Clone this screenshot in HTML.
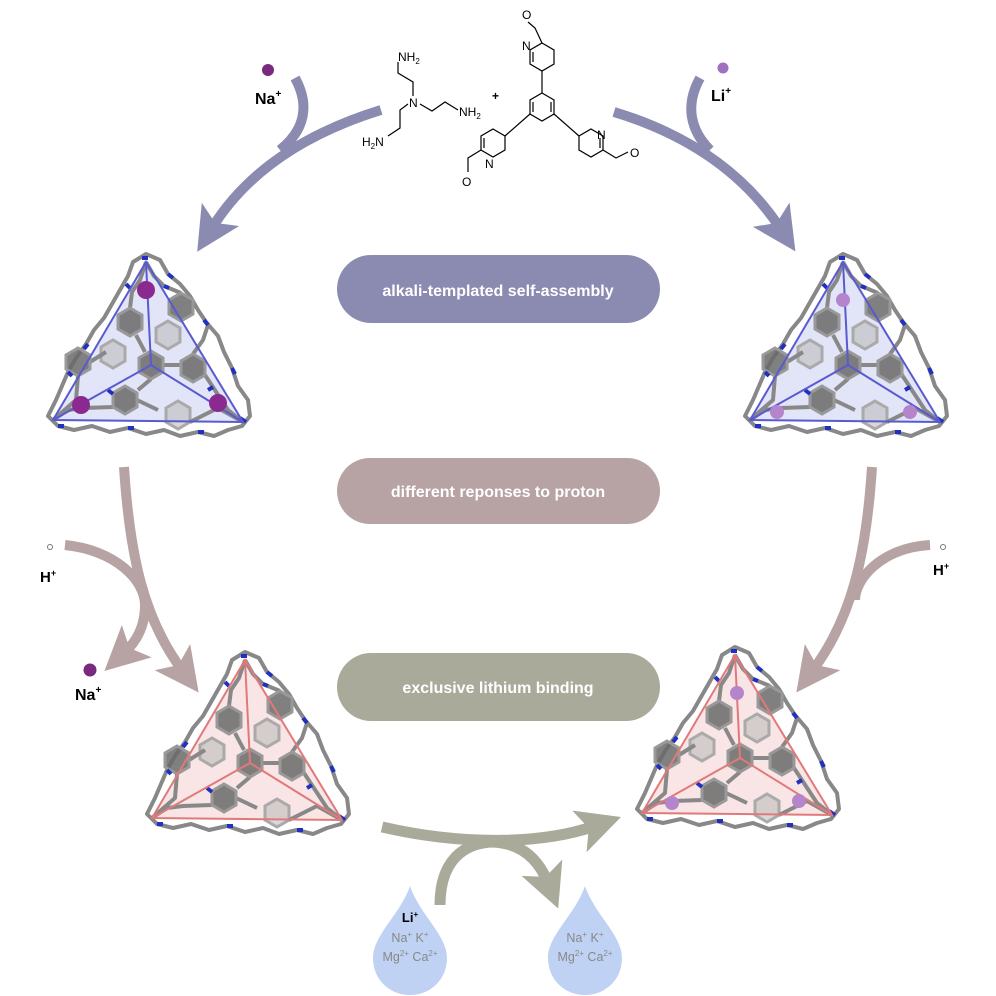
<!DOCTYPE html>
<html><head><meta charset="utf-8"><style>
body{margin:0;background:#fff;}
svg{display:block;font-family:"Liberation Sans",sans-serif;}
</style></head><body>
<svg width="996" height="996" viewBox="0 0 996 996" xmlns="http://www.w3.org/2000/svg">
<defs>
<marker id="ap" markerWidth="4.4" markerHeight="4.4" refX="1.6" refY="2.2" orient="auto" markerUnits="strokeWidth"><path d="M0,0 L4.4,2.2 L0,4.4 L1,2.2z" fill="#8b8bb2"/></marker>
<marker id="ab" markerWidth="4.4" markerHeight="4.4" refX="1.6" refY="2.2" orient="auto" markerUnits="strokeWidth"><path d="M0,0 L4.4,2.2 L0,4.4 L1,2.2z" fill="#b7a3a3"/></marker>
<marker id="ag" markerWidth="4" markerHeight="4" refX="1.5" refY="2" orient="auto" markerUnits="strokeWidth"><path d="M0,0 L4,2 L0,4 L0.9,2z" fill="#aaaa9b"/></marker>
<g id="bonds">
  <g fill="#b8b8b8" fill-opacity="0.55" stroke="#aaa" stroke-width="3">
    <polygon points="150,161 162,168 162,182 150,189 138,182 138,168"/>
    <polygon points="140,81 152,88 152,102 140,109 128,102 128,88"/>
    <polygon points="85,100 97,107 97,121 85,128 73,121 73,107"/>
  </g>
  <g fill="none" stroke="#888" stroke-width="4" stroke-linejoin="round">
    <path d="M105,22 L118,14 L132,20 L140,34 L152,44 L162,56 L170,70 L178,82 L190,96 L196,112 L204,128 L210,146 L220,160 L222,176 L214,186 L200,190 L186,196 L170,192 L152,196 L136,190 L118,194 L100,188 L82,192 L64,186 L46,190 L30,186 L20,176 L28,160 L34,146 L40,132 L48,118 L58,104 L66,90 L76,78 L84,64 L92,50 L100,36z"/>
    <path d="M118,22 L112,40 L104,52 L102,68 M118,22 L126,36 L136,46 L153,53 M25,180 L40,170 L56,168 L85,167 M25,180 L48,160 L50,136 M215,182 L200,170 L177,135 M215,182 L190,168 L162,182"/>
    <path d="M123,139 L110,150 M135,125 L153,125 M117,112 L108,95 M165,114 L175,100 L180,85 M62,122 L78,112 M109,160 L130,170"/>
  </g>
  <g fill="#6a6a6a" fill-opacity="0.85" stroke="#999" stroke-width="3">
    <polygon points="123,111 135,118 135,132 123,139 111,132 111,118"/>
    <polygon points="165,114 177,121 177,135 165,142 153,135 153,121"/>
    <polygon points="102,68 114,75 114,89 102,96 90,89 90,75"/>
    <polygon points="97,146 109,153 109,167 97,174 85,167 85,153"/>
    <polygon points="50,108 62,115 62,129 50,136 38,129 38,115"/>
    <polygon points="153,53 165,60 165,74 153,81 141,74 141,60"/>
  </g>
  <g stroke="#2030c0" stroke-width="4">
    <path d="M114,18 l6,0 M98,44 l4,4 M140,34 l5,4 M176,80 l4,5 M204,128 l3,6 M30,186 l6,0 M60,104 l-4,5 M40,132 l4,4 M100,188 l6,0 M170,192 l6,0 M212,178 l6,4 M80,150 l5,4 M180,150 l5,-3 M136,46 l5,2"/>
  </g>
</g>
</defs>

<!-- pills -->
<rect x="337" y="255" width="323" height="68" rx="34" fill="#8b8bb2"/>
<text x="498" y="296" font-size="16" font-weight="bold" fill="#fff" text-anchor="middle">alkali-templated self-assembly</text>
<rect x="337" y="458" width="323" height="66" rx="33" fill="#b7a3a3"/>
<text x="498" y="497" font-size="16" font-weight="bold" fill="#fff" text-anchor="middle">different reponses to proton</text>
<rect x="337" y="653" width="323" height="68" rx="34" fill="#aaaa9b"/>
<text x="498" y="693" font-size="16" font-weight="bold" fill="#fff" text-anchor="middle">exclusive lithium binding</text>

<!-- purple arrows -->
<g fill="none" stroke="#8b8bb2" stroke-width="10">
<path d="M381,110 C300,135 245,175 212,228" marker-end="url(#ap)"/>
<path d="M295,78 C310,105 305,130 280,150"/>
<path d="M614,112 C690,135 745,175 780,228" marker-end="url(#ap)"/>
<path d="M700,78 C685,105 690,130 710,150"/>
</g>
<!-- brown arrows -->
<g fill="none" stroke="#b7a3a3" stroke-width="10">
<path d="M124,467 C130,560 145,620 182,670" marker-end="url(#ab)"/>
<path d="M65,545 C115,550 145,580 145,605 C145,625 138,640 125,652" marker-end="url(#ab)"/>
<path d="M872,467 C866,560 850,620 813,670" marker-end="url(#ab)"/>
<path d="M930,545 C880,548 855,580 855,600"/>
</g>
<!-- green arrows -->
<g fill="none" stroke="#aaaa9b" stroke-width="11">
<path d="M382,827 C460,845 540,845 595,826" marker-end="url(#ag)"/>
<path d="M440,905 C440,870 455,845 490,842 C520,842 538,858 548,883" marker-end="url(#ag)"/>
</g>

<!-- ions -->
<circle cx="268" cy="70" r="6" fill="#7a2a7e"/>
<text x="255" y="104" font-size="16" font-weight="bold">Na<tspan font-size="10" dy="-7">+</tspan></text>
<circle cx="723" cy="68" r="5.5" fill="#a070c0"/>
<text x="711" y="101" font-size="16" font-weight="bold">Li<tspan font-size="10" dy="-7">+</tspan></text>
<circle cx="50" cy="547" r="2.5" fill="#fff" stroke="#777"/>
<text x="40" y="582" font-size="15" font-weight="bold">H<tspan font-size="9" dy="-6">+</tspan></text>
<circle cx="943" cy="547" r="2.5" fill="#fff" stroke="#777"/>
<text x="933" y="575" font-size="15" font-weight="bold">H<tspan font-size="9" dy="-6">+</tspan></text>
<circle cx="90" cy="670" r="6.5" fill="#7a2a7e"/>
<text x="75" y="700" font-size="16" font-weight="bold">Na<tspan font-size="10" dy="-7">+</tspan></text>

<!-- droplets -->
<path d="M410,886 C400,915 373,935 373,958 C373,980 390,995 410,995 C430,995 447,980 447,958 C447,935 420,915 410,886z" fill="#bfd2f3"/>
<text x="410" y="922" font-size="13" font-weight="bold" text-anchor="middle">Li<tspan font-size="8" dy="-5">+</tspan></text>
<text x="410" y="942" font-size="12.5" fill="#888" text-anchor="middle">Na<tspan font-size="8" dy="-5">+</tspan><tspan dy="5"> K</tspan><tspan font-size="8" dy="-5">+</tspan></text>
<text x="410" y="961" font-size="12.5" fill="#888" text-anchor="middle">Mg<tspan font-size="8" dy="-5">2+</tspan><tspan dy="5"> Ca</tspan><tspan font-size="8" dy="-5">2+</tspan></text>
<path d="M585,886 C575,915 548,935 548,958 C548,980 565,995 585,995 C605,995 622,980 622,958 C622,935 595,915 585,886z" fill="#bfd2f3"/>
<text x="585" y="942" font-size="12.5" fill="#888" text-anchor="middle">Na<tspan font-size="8" dy="-5">+</tspan><tspan dy="5"> K</tspan><tspan font-size="8" dy="-5">+</tspan></text>
<text x="585" y="961" font-size="12.5" fill="#888" text-anchor="middle">Mg<tspan font-size="8" dy="-5">2+</tspan><tspan dy="5"> Ca</tspan><tspan font-size="8" dy="-5">2+</tspan></text>

<!-- chemical structure -->
<g fill="none" stroke="#000" stroke-width="1.2">
<path d="M413,96 L413,82 L398,73 L398,62 M420,104 L432,111 L445,102 L458,110 M408,104 L400,110 L400,128 L388,136"/>
<polygon points="542,93 554,100 554,114 542,121 530,114 530,100"/>
<polygon points="542,43 554,50 554,64 542,71 530,64 530,50"/>
<polygon points="493,129 505,136 505,150 493,157 481,150 481,136"/>
<polygon points="591,129 603,136 603,150 591,157 579,150 579,136"/>
<path d="M542,93 L542,71 M530,114 L505,136 M554,114 L579,136 M542,43 L535,28 L528,22 M481,150 L468,158 L468,172 M603,150 L616,158 L628,152"/>
<path d="M533,102 L533,112 M551,102 L551,112 M533,52 L533,62 M484,138 L484,148 M600,138 L600,148"/>
</g>
<g font-size="12">
<text x="398" y="61">NH<tspan font-size="8" dy="3">2</tspan></text>
<text x="409" y="107">N</text>
<text x="459" y="116">NH<tspan font-size="8" dy="3">2</tspan></text>
<text x="362" y="146">H<tspan font-size="8" dy="3">2</tspan><tspan dy="-3">N</tspan></text>
<text x="492" y="100" font-size="12" font-weight="bold">+</text>
<text x="522" y="19">O</text><text x="522" y="50">N</text>
<text x="485" y="168">N</text><text x="462" y="186">O</text>
<text x="597" y="139">N</text><text x="630" y="157">O</text>
</g>

<!-- cage top-left -->
<g transform="translate(28,240)">
<polygon points="118,22 25,180 215,182" fill="#d6d8f4" fill-opacity="0.7"/>
<use href="#bonds"/>
<g stroke="#5a5ad0" stroke-width="2" fill="none"><polygon points="118,22 25,180 215,182"/><path d="M118,22 L123,125 M25,180 L123,125 M215,182 L123,125"/></g>
<circle cx="118" cy="50" r="9" fill="#8a2a90"/><circle cx="53" cy="165" r="9" fill="#8a2a90"/><circle cx="190" cy="163" r="9" fill="#8a2a90"/>
</g>
<!-- cage top-right -->
<g transform="translate(725,240)">
<polygon points="118,22 25,180 215,182" fill="#d6d8f4" fill-opacity="0.7"/>
<use href="#bonds"/>
<g stroke="#5a5ad0" stroke-width="2" fill="none"><polygon points="118,22 25,180 215,182"/><path d="M118,22 L123,125 M25,180 L123,125 M215,182 L123,125"/></g>
<circle cx="118" cy="60" r="7" fill="#b585cc"/><circle cx="52" cy="172" r="7" fill="#b585cc"/><circle cx="185" cy="172" r="7" fill="#b585cc"/>
</g>
<!-- cage bottom-left -->
<g transform="translate(127,638)">
<polygon points="118,22 25,180 215,182" fill="#f8dede" fill-opacity="0.8"/>
<use href="#bonds"/>
<g stroke="#e07a7a" stroke-width="2" fill="none"><polygon points="118,22 25,180 215,182"/><path d="M118,22 L123,125 M25,180 L123,125 M215,182 L123,125"/></g>
</g>
<!-- cage bottom-right -->
<g transform="translate(617,633)">
<polygon points="118,22 25,180 215,182" fill="#f8dede" fill-opacity="0.8"/>
<use href="#bonds"/>
<g stroke="#e07a7a" stroke-width="2" fill="none"><polygon points="118,22 25,180 215,182"/><path d="M118,22 L123,125 M25,180 L123,125 M215,182 L123,125"/></g>
<circle cx="120" cy="60" r="7" fill="#b585cc"/><circle cx="55" cy="170" r="7" fill="#b585cc"/><circle cx="182" cy="168" r="7" fill="#b585cc"/>
</g>
</svg>
</body></html>
